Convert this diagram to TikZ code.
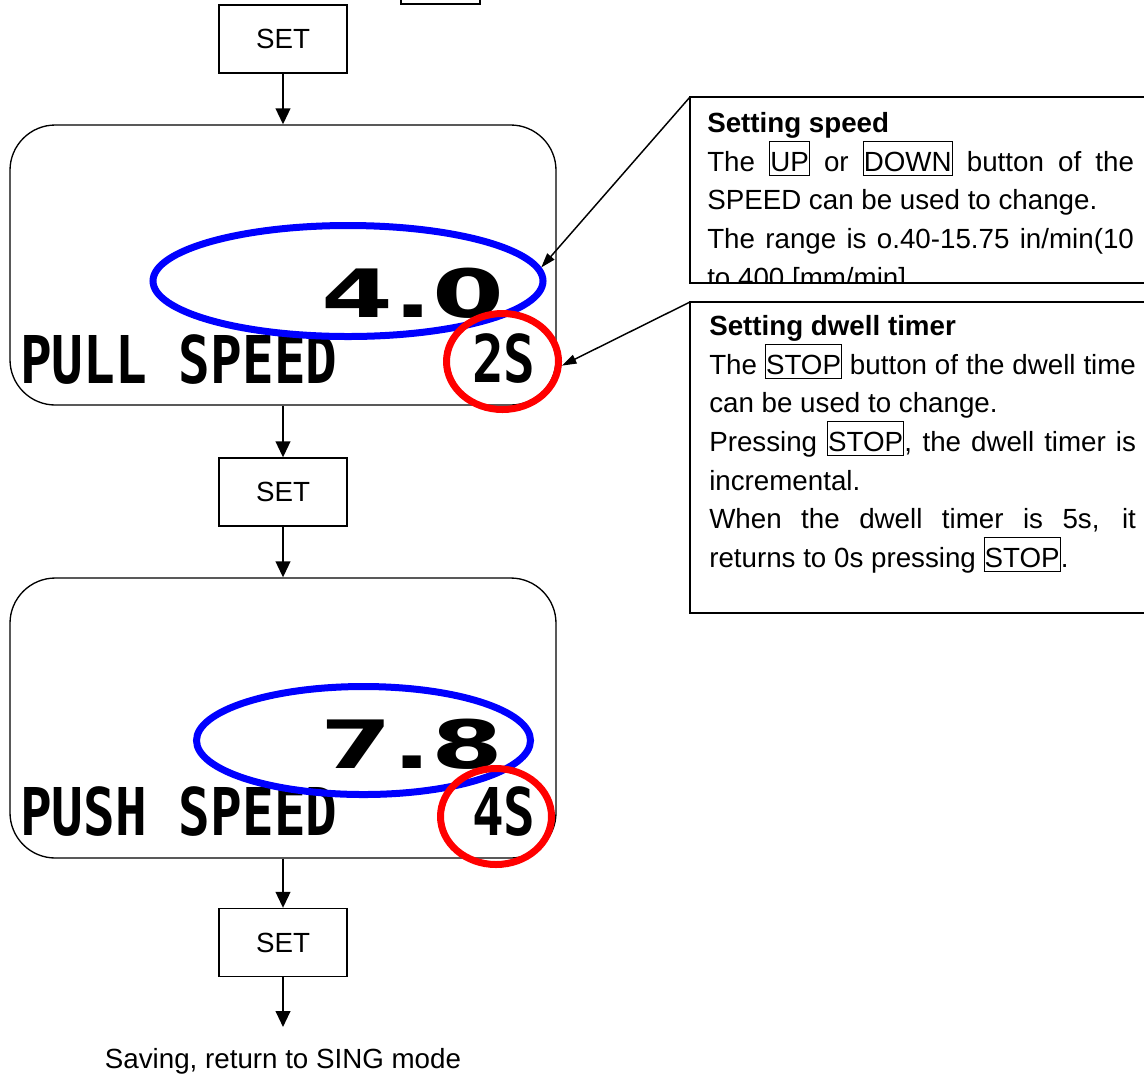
\documentclass[tikz,border=0pt]{standalone}
\usepackage{fontspec}
\setmainfont{Liberation Sans}
\newfontfamily\lcdfont[FakeStretch=0.8]{DejaVu Sans Mono}
\newfontfamily\numfont[FakeStretch=1.55]{DejaVu Sans}
\usetikzlibrary{arrows.meta,shapes.geometric}
\definecolor{ringblue}{rgb}{0,0,1}
\definecolor{ringred}{rgb}{1,0,0}
\newcommand\btn[1]{{\setlength\fboxsep{0pt}\setlength\fboxrule{0.8pt}\fbox{\rule[-3pt]{0pt}{25pt}#1}}}

\tikzset{
  setbox/.style={draw,line width=1pt,minimum width=96pt,minimum height=51pt,inner sep=0pt,font=\fontsize{20.8}{24}\selectfont},
  panel/.style={draw,line width=1pt,rounded corners=34pt,minimum width=409.5pt,minimum height=210pt},
  lcd/.style={anchor=base west,inner sep=0pt,font=\lcdfont\bfseries\fontsize{49.4}{50}\selectfont},
  digits/.style={anchor=base west,inner sep=0pt,font=\numfont\bfseries\fontsize{50}{50}\selectfont},
  ring/.style={draw,ellipse,line width=5.25pt,inner sep=0pt},
  flow/.style={line width=1.5pt,-{Triangle[length=12pt,width=11pt]}},
  pointer/.style={line width=1.1pt,-{Triangle[length=11pt,width=7pt]}},
  note/.style={anchor=north west,inner sep=0pt,text width=320pt,align=justify,font=\fontsize{20.8}{29}\selectfont},
}

\begin{document}
\begin{tikzpicture}[x=0.75pt,y=0.75pt,yscale=-1]
\useasboundingbox (0,0) rectangle (1144,1076);

% Button box cut off at top
\node [draw,line width=1pt,minimum width=59.25pt,minimum height=30pt,inner sep=0pt] (prevbtn) at (440.5,-16) {};

% SET buttons
\node [setbox] (set1) at (283,39) {SET};
\node [setbox] (set2) at (283,492) {SET};
\node [setbox] (set3) at (283,942.5) {SET};

% Display panels
\node [panel] (panel1) at (283,265) {};
\node [panel] (panel2) at (283,718) {};

% Display texts
\node [lcd] (pullname) at (20,383) {PULL SPEED};
\node [lcd] (pulltime) at (472,382) {2S};
\node [digits] (pullvalue) at (321,317) {4.0};
\node [lcd] (pushname) at (20,835) {PUSH SPEED};
\node [lcd] (pushtime) at (472,835) {4S};
\node [digits] (pushvalue) at (320,768) {7.8};

% Rings
\node [ring,ringblue,minimum width=292.5pt,minimum height=83.25pt] (blue1) at (348,281) {};
\node [ring,ringred,minimum width=84pt,minimum height=72pt] (red1) at (502.5,361.5) {};
\node [ring,ringblue,minimum width=250.5pt,minimum height=81pt] (blue2) at (363.5,740.5) {};
\node [ring,ringred,minimum width=83.25pt,minimum height=72pt] (red2) at (496,816.5) {};

% Flow arrows
\draw [flow] (set1) -- (panel1);
\draw [flow] (panel1) -- (set2);
\draw [flow] (set2) -- (panel2);
\draw [flow] (panel2) -- (set3);
\coordinate (saveend) at (283,1027);
\draw [flow] (set3) -- (saveend);

% Text Node
\node [anchor=base,inner sep=0pt,font=\fontsize{20.8}{24}\selectfont] (savetext) at (283,1068) {Saving, return to SING mode};

% Callout: speed
\coordinate (speedcorner) at (690,97);
\draw [line width=1.2pt] (speedcorner) rectangle (1160,283);
\begin{scope}
\clip (speedcorner) rectangle (1144,283);
\node [note] (speednote) at (707,112) {\textbf{Setting speed}\\
The \btn{UP} or \btn{DOWN} button of the\linebreak
SPEED can be used to change.\\
The range is o.40-15.75 in/min(10\linebreak
to 400 [mm/min]};
\end{scope}
\draw [pointer] (speedcorner) -- (blue1.4);

% Callout: dwell timer
\coordinate (dwellcorner) at (690,302);
\draw [line width=1.2pt] (dwellcorner) rectangle (1160,613);
\node [note] (dwellnote) at (709,315) {\textbf{Setting dwell timer}\\
The \btn{STOP} button of the dwell time\linebreak
can be used to change.\\
Pressing \btn{STOP}, the dwell timer is\linebreak
incremental.\\
When the dwell timer is 5s, it\linebreak
returns to 0s pressing \btn{STOP}.};
\draw [pointer] (dwellcorner) -- (red1.-4);

\end{tikzpicture}
\end{document}
